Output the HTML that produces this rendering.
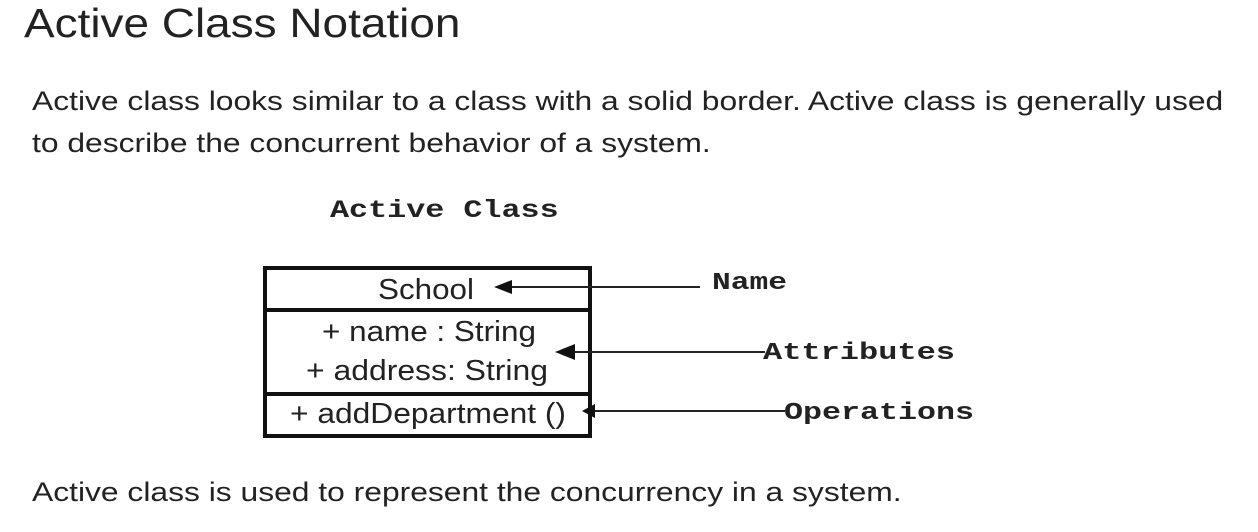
<!DOCTYPE html>
<html><head><style>
body{margin:0;width:1258px;height:532px;background:#fff;position:relative;overflow:hidden;font-family:"Liberation Sans",sans-serif;color:#222}
.t{position:absolute;white-space:nowrap;transform-origin:0 0}
.m{font-family:"Liberation Mono",monospace;font-weight:bold;color:#222}
</style></head><body>
<div class="t" style="left:24px;top:0px;font-size:41px;transform:scaleX(1.12)">Active Class Notation</div>
<div class="t" style="left:32px;top:80px;font-size:26.5px;line-height:42px;transform:scaleX(1.2)">Active class looks similar to a class with a solid border. Active class is generally used<br>to describe the concurrent behavior of a system.</div>
<div class="t m" style="left:330px;top:196px;font-size:25px;transform:scaleX(1.27)">Active Class</div>
<svg style="position:absolute;left:0;top:0" width="1258" height="532">
<rect x="265" y="268" width="325" height="168" fill="none" stroke="#111" stroke-width="4"/>
<line x1="265" y1="310" x2="590" y2="310" stroke="#111" stroke-width="4"/>
<line x1="265" y1="394" x2="590" y2="394" stroke="#111" stroke-width="4"/>
<g stroke="#222" stroke-width="2">
<line x1="500" y1="287" x2="700" y2="287"/>
<line x1="565" y1="352" x2="765" y2="352"/>
<line x1="590" y1="411" x2="785" y2="411"/>
</g>
<polygon points="494,287 512,280 512,294" fill="#111"/>
<polygon points="555,352 575,344 575,360" fill="#111"/>
<polygon points="582,411 595,404 595,418" fill="#111"/>
<g font-family="Liberation Sans,sans-serif" font-size="29" fill="#222" lengthAdjust="spacingAndGlyphs">
<text x="378" y="299" textLength="96" lengthAdjust="spacingAndGlyphs">School</text>
<text x="322" y="341" textLength="214" lengthAdjust="spacingAndGlyphs">+ name : String</text>
<text x="306" y="380" textLength="242" lengthAdjust="spacingAndGlyphs">+ address: String</text>
<text x="290" y="423" textLength="276" lengthAdjust="spacingAndGlyphs">+ addDepartment ()</text>
</g>
<g font-family="Liberation Mono,monospace" font-weight="bold" font-size="24" fill="#222">
<text x="712" y="289" textLength="75" lengthAdjust="spacingAndGlyphs">Name</text>
<text x="763" y="359" textLength="192" lengthAdjust="spacingAndGlyphs">Attributes</text>
<text x="784" y="419" textLength="190" lengthAdjust="spacingAndGlyphs">Operations</text>
</g>
</svg>
<div class="t" style="left:32px;top:477px;font-size:26.5px;transform:scaleX(1.2)">Active class is used to represent the concurrency in a system.</div>
</body></html>
